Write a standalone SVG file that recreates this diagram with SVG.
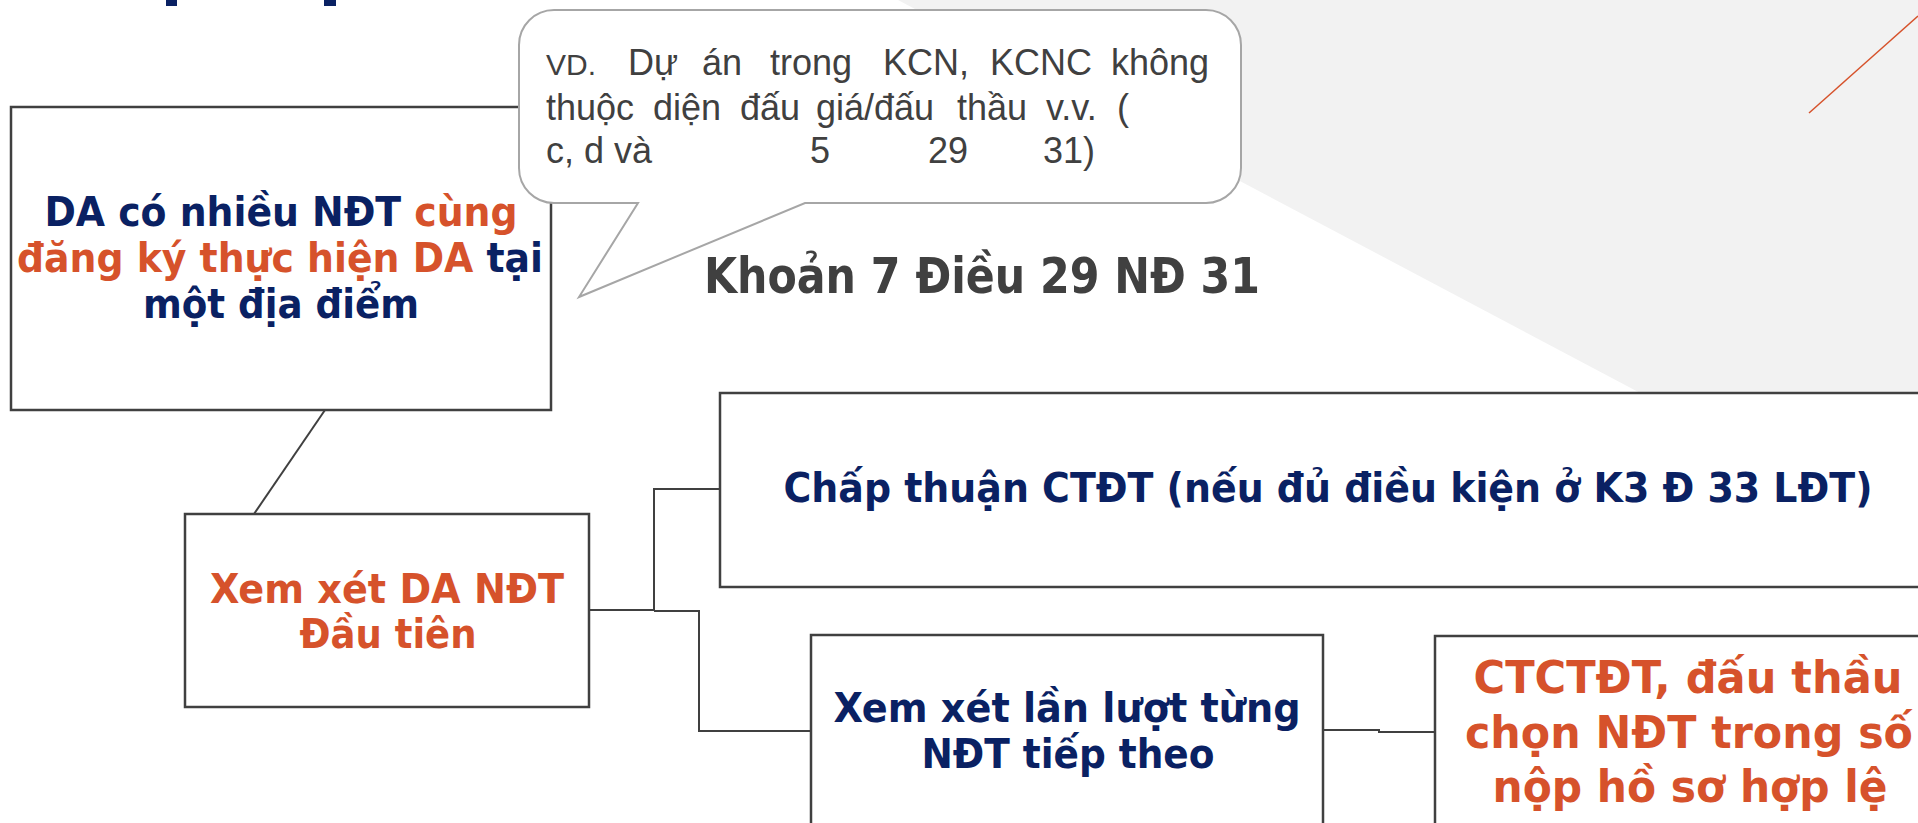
<svg xmlns="http://www.w3.org/2000/svg" width="1918" height="823" viewBox="0 0 1918 823">
<style>
.box{fill:#fff;stroke:#404040;stroke-width:2.5}
.con{fill:none;stroke:#404040;stroke-width:2}
.b{font-family:"DejaVu Sans Condensed","DejaVu Sans",sans-serif;font-weight:bold;text-anchor:middle}
.navy{fill:#0A2163}
.org{fill:#D6522B}
.bub{font-family:"Liberation Sans",Arial,sans-serif;font-size:36px;fill:#404040}
</style>
<rect width="1918" height="823" fill="#fff"/>
<polygon points="898,0 1918,0 1918,540" fill="#F2F2F2"/>
<line x1="1809" y1="113" x2="1918" y2="16" stroke="#D6522B" stroke-width="1.5"/>
<g id="title-fragment" fill="#0A2163">
<rect x="166" y="0" width="11" height="6"/>
<rect x="324" y="0" width="12" height="6"/>
</g>
<g id="connectors">
<line class="con" x1="325" y1="410" x2="254" y2="514"/>
<polyline class="con" points="589,610 654,610 654,489 720,489"/>
<polyline class="con" points="654,611 699,611 699,731 811,731"/>
<polyline class="con" points="1323,730 1379,730 1379,732 1435,732"/>
</g>
<g id="node-da">
<rect class="box" x="11" y="107" width="540" height="303"/>
<text class="b" font-size="41" x="281" y="226" textLength="473" lengthAdjust="spacingAndGlyphs"><tspan class="navy">DA có nhiều NĐT </tspan><tspan class="org">cùng</tspan></text>
<text class="b" font-size="41" x="280" y="272" textLength="526" lengthAdjust="spacingAndGlyphs"><tspan class="org">đăng ký thực hiện DA</tspan><tspan class="navy"> tại</tspan></text>
<text class="b navy" font-size="41" x="281" y="318" textLength="276" lengthAdjust="spacingAndGlyphs">một địa điểm</text>
</g>
<g id="callout">
<path d="M554,10 H1206 A35,35 0 0 1 1241,45 V168 A35,35 0 0 1 1206,203 H805 L579,297 L638,203 H554 A35,35 0 0 1 519,168 V45 A35,35 0 0 1 554,10 Z" fill="#fff" stroke="#A6A6A6" stroke-width="2"/>
<text class="bub" y="75"><tspan x="546" font-size="30">VD.</tspan><tspan x="628">Dự</tspan><tspan x="702">án</tspan><tspan x="770">trong</tspan><tspan x="883">KCN,</tspan><tspan x="990">KCNC</tspan><tspan x="1209" text-anchor="end">không</tspan></text>
<text class="bub" y="120"><tspan x="546">thuộc</tspan><tspan x="653">diện</tspan><tspan x="740">đấu</tspan><tspan x="816">giá/đấu</tspan><tspan x="957">thầu</tspan><tspan x="1046">v.v.</tspan><tspan x="1117">(</tspan></text>
<text class="bub" y="163"><tspan x="546">c, d và</tspan><tspan x="810">5</tspan><tspan x="928">29</tspan><tspan x="1043">31)</tspan></text>
</g>
<g id="label-khoan">
<text class="b" font-size="49" x="982" y="293" fill="#404040" textLength="556" lengthAdjust="spacingAndGlyphs">Khoản 7 Điều 29 NĐ 31</text>
</g>
<g id="node-xemxet">
<rect class="box" x="185" y="514" width="404" height="193"/>
<text class="b org" font-size="41" x="387" y="603" textLength="354" lengthAdjust="spacingAndGlyphs">Xem xét DA NĐT</text>
<text class="b org" font-size="41" x="388" y="648" textLength="177" lengthAdjust="spacingAndGlyphs">Đầu tiên</text>
</g>
<g id="node-chapthuan">
<rect class="box" x="720" y="393" width="1215" height="194"/>
<text class="b navy" font-size="41" x="1328" y="502" textLength="1089" lengthAdjust="spacingAndGlyphs">Chấp thuận CTĐT (nếu đủ điều kiện ở K3 Đ 33 LĐT)</text>
</g>
<g id="node-tiep">
<rect class="box" x="811" y="635" width="512" height="200"/>
<text class="b navy" font-size="41" x="1067" y="722" textLength="467" lengthAdjust="spacingAndGlyphs">Xem xét lần lượt từng</text>
<text class="b navy" font-size="41" x="1068" y="768" textLength="293" lengthAdjust="spacingAndGlyphs">NĐT tiếp theo</text>
</g>
<g id="node-ctctdt">
<rect class="box" x="1435" y="636" width="500" height="200"/>
<text class="b org" font-size="44" x="1688" y="693" textLength="429" lengthAdjust="spacingAndGlyphs">CTCTĐT, đấu thầu</text>
<text class="b org" font-size="44" x="1689" y="748" textLength="448" lengthAdjust="spacingAndGlyphs">chọn NĐT trong số</text>
<text class="b org" font-size="44" x="1690" y="802" textLength="395" lengthAdjust="spacingAndGlyphs">nộp hồ sơ hợp lệ</text>
</g>
</svg>
